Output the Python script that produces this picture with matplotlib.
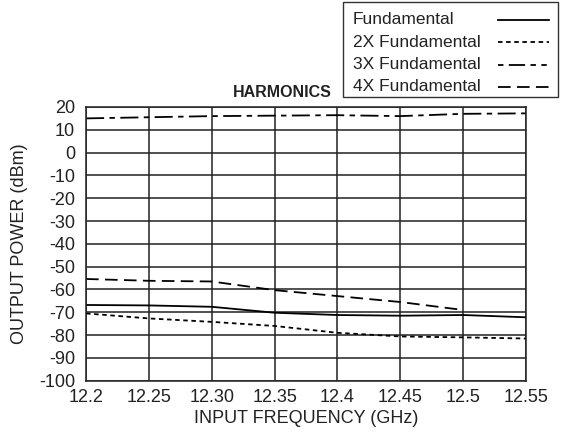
import numpy as np
import matplotlib.pyplot as plt
from matplotlib.lines import Line2D
from matplotlib.patches import Rectangle

plt.rcParams['font.family'] = ['Liberation Sans', 'DejaVu Sans']
plt.rcParams['axes.unicode_minus'] = False

freq = [12.2, 12.25, 12.3, 12.35, 12.4, 12.45, 12.5, 12.55]
xtick_labels = ['12.2', '12.25', '12.30', '12.35', '12.4', '12.45', '12.5', '12.55']

# (dBm)
top_line = [15.0, 15.5, 16.0, 16.2, 16.4, 16.0, 17.0, 17.2]
fund = [-66.8, -67.0, -67.6, -70.2, -71.2, -71.5, -71.2, -72.2]
x2 = [-70.5, -72.7, -74.2, -76.0, -79.0, -80.6, -81.0, -81.5]
x4_freq = [12.2, 12.25, 12.3, 12.35, 12.4, 12.45, 12.5]
x4 = [-55.4, -56.2, -56.5, -60.3, -62.9, -65.5, -69.0]

labels = ['Fundamental', '2X Fundamental', '3X Fundamental', '4X Fundamental']
styles = ['-', (0, (2.5, 2)), (0, (3, 3, 9, 3, 3, 3)), (0, (7, 3.5))]

W, H = 563, 434
fig = plt.figure(figsize=(W / 100, H / 100), dpi=100)
ax = fig.add_axes([0.1528, 0.1228, 0.7815, 0.6307])

ax.plot(freq, top_line, color='k', lw=1.3, linestyle=(0, (10, 3, 3, 3)))
ax.plot(freq, fund, color='k', lw=1.3, linestyle=styles[0])
ax.plot(freq, x2, color='k', lw=1.3, linestyle=styles[1])
ax.plot(x4_freq, x4, color='k', lw=1.3, linestyle=styles[3])

ax.set_xlim(12.2, 12.55)
ax.set_ylim(-100, 20)
ax.set_xticks(freq)
ax.set_xticklabels(xtick_labels)
ax.set_yticks(np.arange(-100, 21, 10))
ax.tick_params(length=0, labelsize=13, colors='#222222')
ax.tick_params(axis='x', pad=6)
ax.tick_params(axis='y', pad=8)
ax.grid(True, color='#222222', lw=1.1)
for s in ax.spines.values():
    s.set_color('#222222')
    s.set_linewidth(1.1)

ax.set_xlabel('INPUT FREQUENCY (GHz)', fontsize=13, color='#222222', labelpad=3)
ax.set_ylabel('OUTPUT POWER (dBm)', fontsize=13, color='#222222', labelpad=8)

fig.text(0.502, 0.788, 'HARMONICS', fontsize=11.5, fontweight='bold',
         family=['Liberation Sans Narrow', 'Liberation Sans'], ha='center', va='center',
         color='#222222')

# legend box drawn by hand (labels left, samples right)
fig.patches.append(Rectangle((343 / W, 1 - 97 / H), (558 - 343) / W, 95 / H,
                             transform=fig.transFigure, fill=False,
                             edgecolor='#333333', lw=1.0))
for i, (lab, ls) in enumerate(zip(labels, styles)):
    yc = 1 - (20 + 22.3 * i) / H
    fig.text(353 / W, yc, lab, fontsize=12.5, color='#222222', ha='left', va='center')
    fig.add_artist(Line2D([498 / W, 549 / W], [yc, yc], transform=fig.transFigure,
                          color='k', lw=1.3, linestyle=ls))

fig.savefig('out.png', dpi=100)
